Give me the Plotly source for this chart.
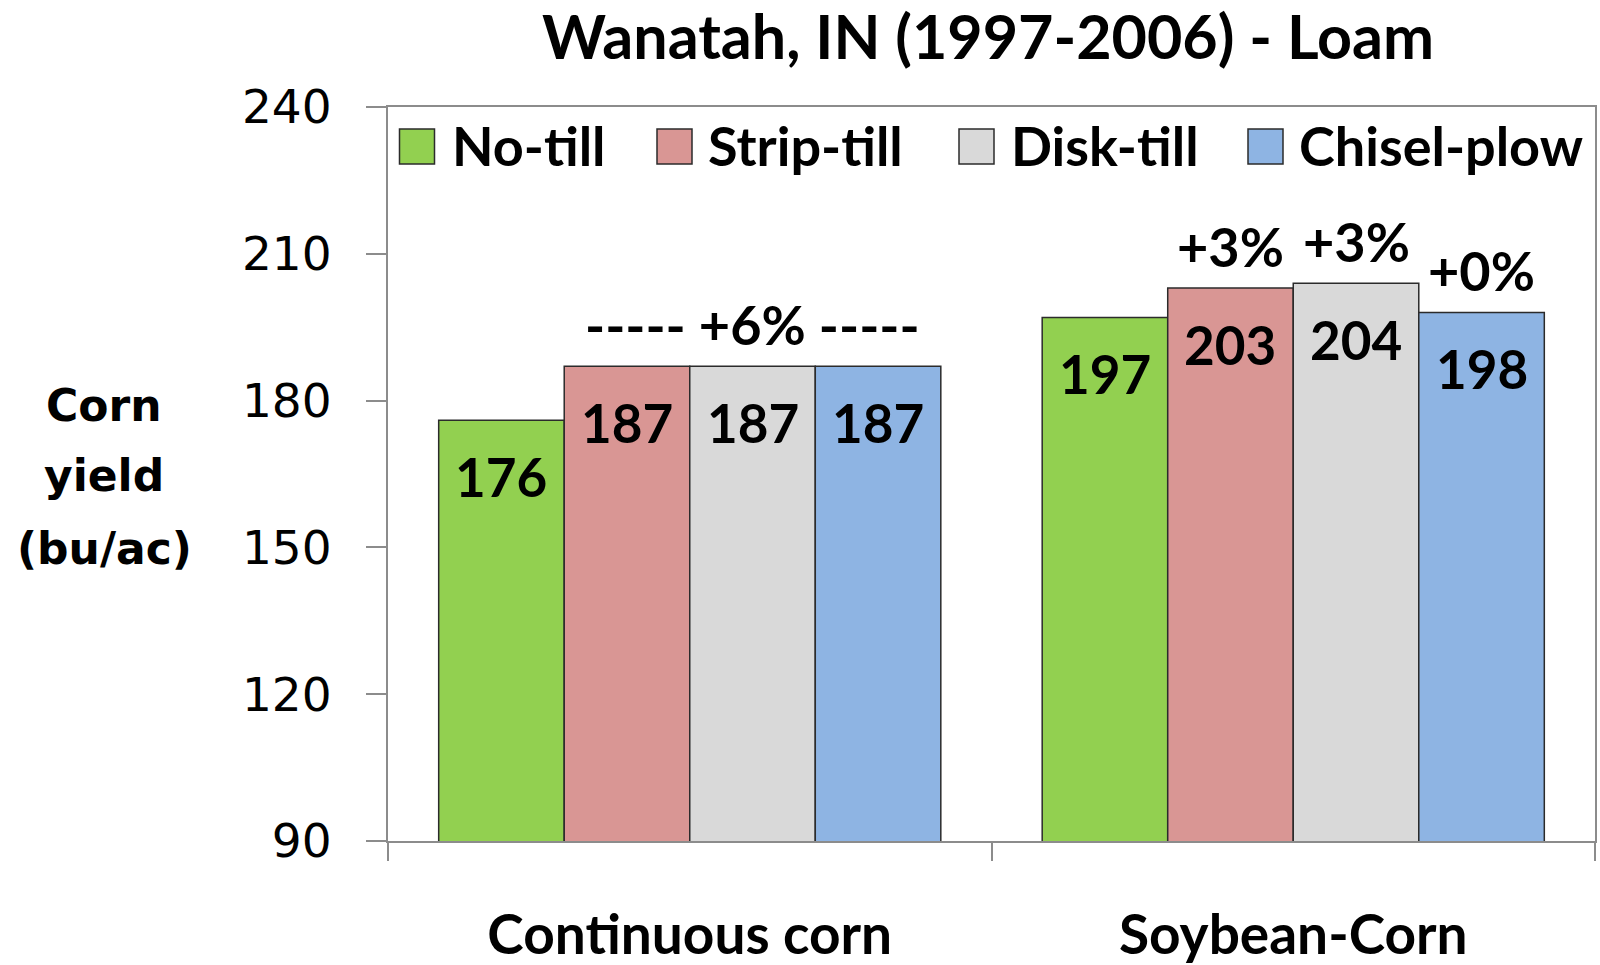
import plotly.graph_objects as go

# data
rotations = ["Continuous corn", "Soybean-Corn"]
tillage = ["No-till", "Strip-till", "Disk-till", "Chisel-plow"]
no_till = [176, 197]
strip_till = [187, 203]
disk_till = [187, 204]
chisel_plow = [187, 198]
change_cc = ["", "", "----- +6% -----", ""]
change_sc = ["", "+3%", "+3%", "+0%"]
y_ticks = [90, 120, 150, 180, 210, 240]
y_title = ["Corn", "yield", "(bu/ac)"]

series = [no_till, strip_till, disk_till, chisel_plow]
changes = [change_cc, change_sc]
colors = ["#92D050", "#D99694", "#D9D9D9", "#8EB4E3"]

CAL = "Lato, Carlito, Calibri, sans-serif"
VER = "DejaVu Sans, Verdana, sans-serif"

W, H = 1600, 965
L, R, T, B = 388, 5, 107, 124
bargap = 0.168
bar_w = (1 - bargap) / len(tillage)


def px_x(p):
    return (p - L) / (W - L - R)


def px_y(p):
    return (H - B - p) / (H - T - B)


fig = go.Figure()
for name, vals, col in zip(tillage, series, colors):
    fig.add_trace(go.Bar(
        x=rotations, y=vals, name=name,
        marker=dict(color=col, line=dict(color="#2b2b2b", width=1.5)),
        showlegend=False,
    ))

annotations = []
for ci, rot in enumerate(rotations):
    for si, vals in enumerate(series):
        xpos = ci + (si - 1.5) * bar_w
        annotations.append(dict(
            x=xpos, y=vals[ci], xref="x", yref="y", text=f"<b>{vals[ci]}</b>",
            showarrow=False, yanchor="middle", yshift=-56,
            font=dict(family=CAL, size=53, color="black"),
        ))
        if changes[ci][si]:
            annotations.append(dict(
                x=xpos, y=vals[ci], xref="x", yref="y",
                text=f"<b>{changes[ci][si]}</b>",
                showarrow=False, yanchor="middle", yshift=42,
                font=dict(family=CAL, size=54, color="black"),
            ))

# y axis title, written flat in three lines like the original
for line, yp in zip(y_title, [405, 476, 548]):
    annotations.append(dict(
        x=px_x(104), y=px_y(yp), xref="paper", yref="paper",
        text=f"<b>{line}</b>", showarrow=False,
        xanchor="center", yanchor="middle",
        font=dict(family=VER, size=44, color="black"),
    ))

# legend drawn by hand so the keys can be as large as in the original
shapes = []
key_left = [399.5, 657, 959, 1248]
text_left = [450, 706, 1009, 1297]
for name, col, kx, tx in zip(tillage, colors, key_left, text_left):
    shapes.append(dict(
        type="rect", xref="paper", yref="paper",
        x0=px_x(kx), x1=px_x(kx + 35), y0=px_y(164), y1=px_y(129),
        fillcolor=col, line=dict(color="#2b2b2b", width=1.5),
    ))
    annotations.append(dict(
        x=px_x(tx), y=px_y(146), xref="paper", yref="paper",
        text=f"<b>{name}</b>", showarrow=False,
        xanchor="left", yanchor="middle",
        font=dict(family=CAL, size=54, color="black"),
    ))

fig.update_layout(
    width=W, height=H,
    margin=dict(l=L, r=R, t=T, b=B),
    paper_bgcolor="white", plot_bgcolor="white",
    barmode="group", bargap=bargap, bargroupgap=0,
    title=dict(
        text="<b>Wanatah, IN (1997-2006) - Loam</b>",
        x=988 / W, xanchor="center", y=1 - 38 / H, yanchor="middle",
        font=dict(family=CAL, size=61, color="black"),
    ),
    xaxis=dict(
        type="category", tickson="boundaries", ticks="outside", ticklen=18,
        tickcolor="#8c8c8c", tickwidth=2,
        showline=True, linecolor="#8c8c8c", linewidth=2, mirror=True,
        showgrid=False, ticklabelstandoff=45, automargin=False,
        tickfont=dict(family=CAL, size=55, color="black"),
        tickprefix="<b>", ticksuffix="</b>",
    ),
    yaxis=dict(
        range=[90, 240], tickvals=y_ticks, ticks="outside", ticklen=20,
        tickcolor="#8c8c8c", tickwidth=2,
        showline=True, linecolor="#8c8c8c", linewidth=2, mirror=True,
        showgrid=False, zeroline=False, ticklabelstandoff=25, automargin=False,
        tickfont=dict(family=VER, size=47, color="black"),
    ),
    annotations=annotations,
    shapes=shapes,
)

# drop the browser's default page margin so the figure sits at the corner
fig.write_html("out.html", config={"displayModeBar": False},
               post_script="document.body.style.margin='0';")
